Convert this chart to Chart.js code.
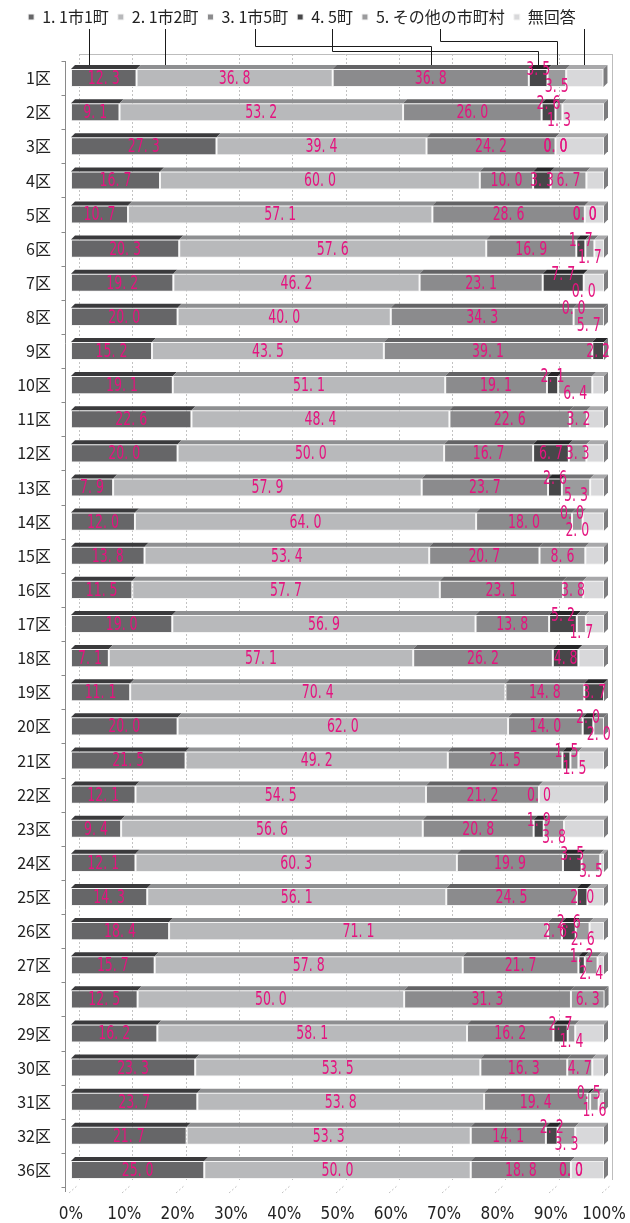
<!DOCTYPE html>
<html lang="ja">
<head>
<meta charset="utf-8">
<title>区別 回答割合</title>
<script src="https://cdn.jsdelivr.net/npm/chart.js@4.4.0/dist/chart.umd.min.js"></script>
<style>
    html, body { margin: 0; padding: 0; background: #fff; }
    #wrap { width: 630px; height: 1223px; }
</style>
</head>
<body>
<div id="wrap"><canvas id="chart" width="630" height="1223"></canvas></div>
<script>
// Categories (rows)
const districts = ['1区', '2区', '3区', '4区', '5区', '6区', '7区', '8区', '9区', '10区',
    '11区', '12区', '13区', '14区', '15区', '16区', '17区', '18区', '19区', '20区',
    '21区', '22区', '23区', '24区', '25区', '26区', '27区', '28区', '29区', '30区',
    '31区', '32区', '36区'];

// Series names (legend)
const seriesNames = ['1. 1市1町', '2. 1市2町', '3. 1市5町', '4. 5町', '5. その他の市町村', '無回答'];

// Series values (%), null = no value shown
const city1Town1 = [12.3, 9.1, 27.3, 16.7, 10.7, 20.3, 19.2, 20.0, 15.2, 19.1, 22.6, 20.0, 7.9, 12.0, 13.8, 11.5,
    19.0, 7.1, 11.1, 20.0, 21.5, 12.1, 9.4, 12.1, 14.3, 18.4, 15.7, 12.5, 16.2, 23.3, 23.7, 21.7, 25.0];
const city1Town2 = [36.8, 53.2, 39.4, 60.0, 57.1, 57.6, 46.2, 40.0, 43.5, 51.1, 48.4, 50.0, 57.9, 64.0, 53.4, 57.7,
    56.9, 57.1, 70.4, 62.0, 49.2, 54.5, 56.6, 60.3, 56.1, 71.1, 57.8, 50.0, 58.1, 53.5, 53.8, 53.3, 50.0];
const city1Town5 = [36.8, 26.0, 24.2, 10.0, 28.6, 16.9, 23.1, 34.3, 39.1, 19.1, 22.6, 16.7, 23.7, 18.0, 20.7, 23.1,
    13.8, 26.2, 14.8, 14.0, 21.5, 21.2, 20.8, 19.9, 24.5, 2.6, 21.7, 31.3, 16.2, 16.3, 19.4, 14.1, 18.8];
const town5 = [3.5, 2.6, 0.0, 3.3, 0.0, 1.7, 7.7, 0.0, 2.2, 2.1, null, 6.7, 2.6, 0.0, null, null,
    5.2, 4.8, 3.7, 2.0, 1.5, null, 1.9, 3.5, 2.0, 2.6, 1.2, null, 2.7, null, 0.5, 2.2, 0.0];
const otherMunicipalities = [3.5, 1.3, 0.0, 6.7, 0.0, 1.7, 0.0, 5.7, null, 6.4, 3.2, 3.3, 5.3, 2.0, 8.6, 3.8,
    1.7, null, null, 2.0, 1.5, 0.0, 3.8, 3.5, null, 2.6, 2.4, 6.3, 1.4, 4.7, 1.6, 3.3, 0.0];
const noAnswer = [7.0, 7.8, 9.1, 3.3, 3.6, 1.8, 3.8, 0.0, 0.0, 2.2, 3.2, 3.3, 2.6, 4.0, 3.5, 3.9,
    3.4, 4.8, 0.0, 0.0, 4.8, 12.2, 7.5, 0.7, 3.1, 2.7, 1.2, 0.0, 5.4, 2.2, 1.0, 5.4, 6.2];

const seriesValues = [city1Town1, city1Town2, city1Town5, town5, otherMunicipalities, noAnswer];

// Styles
const faceColors = ['#666668', '#b8b9bb', '#8b8b8d', '#474749', '#9b9b9d', '#d8d8da'];
const topColors = ['#3a3a3c', '#8e8f91', '#636365', '#262628', '#737375', '#a8a8aa'];
const labelColor = '#e4147f';
const depth = 4;            // 3D top face depth
const wallDx = 8, wallDy = 7;
const legendBand = 61;      // space reserved for legend + leader lines
const labelSqueeze = 0.66;

function fmt(v) {
    return v.toFixed(1).replace('.', '. ');
}

/**
 * Decorations: back wall, axis, 3D faces, value labels, legend leader lines
 */
const decor = {
    id: 'decor',
    afterInit(chart) {
        const lg = chart.legend;
        if (lg) {
            const fit = lg.fit;
            lg.fit = function () { fit.call(this); this.height = legendBand; };
        }
    },
    beforeDatasetsDraw(chart) {
        const { ctx, chartArea: a, scales: { x } } = chart;
        ctx.save();
        ctx.lineWidth = 1;

        // back wall grid (dashed)
        ctx.strokeStyle = '#c2c2c2';
        ctx.setLineDash([2, 2]);
        x.ticks.forEach(t => {
            const px = Math.round(x.getPixelForValue(t.value)) + wallDx + 0.5;
            ctx.beginPath();
            ctx.moveTo(px, a.top - wallDy);
            ctx.lineTo(px, a.bottom - wallDy);
            ctx.stroke();
        });
        // floor diagonals
        x.ticks.forEach(t => {
            const px = Math.round(x.getPixelForValue(t.value));
            ctx.beginPath();
            ctx.moveTo(px - 2, a.bottom + 6);
            ctx.lineTo(px + wallDx - 1, a.bottom - 2);
            ctx.stroke();
        });
        ctx.setLineDash([]);

        // wall top and right edges
        ctx.strokeStyle = '#bdbdbd';
        ctx.beginPath();
        ctx.moveTo(a.left + wallDx, Math.round(a.top - wallDy) + 0.5);
        ctx.lineTo(a.right + wallDx, Math.round(a.top - wallDy) + 0.5);
        ctx.moveTo(Math.round(a.right + wallDx) + 0.5, a.top - wallDy);
        ctx.lineTo(Math.round(a.right + wallDx) + 0.5, a.bottom - wallDy);
        ctx.stroke();

        // left axis with tick marks at row boundaries
        const axX = Math.round(a.left - 6) + 0.5;
        ctx.strokeStyle = '#8a8a8a';
        ctx.beginPath();
        ctx.moveTo(axX, a.top);
        ctx.lineTo(axX, a.bottom + 5);
        const n = districts.length;
        for (let j = 0; j <= n; j++) {
            const yb = Math.round(a.top + j * a.height / n) + 0.5;
            ctx.moveTo(axX - 4, yb);
            ctx.lineTo(axX, yb);
        }
        ctx.stroke();
        ctx.restore();
    },
    afterDatasetsDraw(chart) {
        const { ctx, chartArea: a } = chart;
        ctx.save();

        // 3D top faces and right end face
        districts.forEach((d, j) => {
            let last = null;
            seriesValues.forEach((vals, i) => {
                const v = vals[j];
                if (v == null || v === 0) return;
                const el = chart.getDatasetMeta(i).data[j];
                const p = el.getProps(['x', 'y', 'base', 'height'], true);
                const lo = Math.min(p.x, p.base), hi = Math.max(p.x, p.base);
                const top = p.y - p.height / 2;
                ctx.fillStyle = topColors[i];
                ctx.beginPath();
                ctx.moveTo(lo, top);
                ctx.lineTo(lo + depth, top - depth);
                ctx.lineTo(hi + depth, top - depth);
                ctx.lineTo(hi, top);
                ctx.closePath();
                ctx.fill();
                last = { i, hi, top, bottom: p.y + p.height / 2 };
            });
            if (last) {
                ctx.fillStyle = '#7c7c7e';
                ctx.beginPath();
                ctx.moveTo(last.hi, last.top);
                ctx.lineTo(last.hi + depth, last.top - depth);
                ctx.lineTo(last.hi + depth, last.bottom - depth);
                ctx.lineTo(last.hi, last.bottom);
                ctx.closePath();
                ctx.fill();
            }
        });

        // value labels (無回答 not labelled)
        ctx.font = '19px "DejaVu Sans"';
        ctx.fillStyle = labelColor;
        ctx.textAlign = 'center';
        ctx.textBaseline = 'middle';
        districts.forEach((d, j) => {
            const items = [];
            for (let i = 0; i < 5; i++) {
                const v = seriesValues[i][j];
                if (v == null) continue;
                const p = chart.getDatasetMeta(i).data[j].getProps(['x', 'y', 'base'], true);
                const text = fmt(v);
                items.push({ i, text, cx: (p.x + p.base) / 2, cy: p.y, w: ctx.measureText(text).width * labelSqueeze, dy: 0 });
            }
            const overlap = (m, n) => Math.abs(m.cx - n.cx) < (m.w + n.w) / 2;
            const a3 = items.find(o => o.i === 2);
            const a4 = items.find(o => o.i === 3);
            const a5 = items.find(o => o.i === 4);
            if (a4 && a5 && Math.abs(a4.cx - a5.cx) > 0.5 && overlap(a4, a5)) {
                a4.dy = -9;
                a5.dy = 8;
            }
            if (a3 && a4 && overlap(a3, a4)) a4.dy = -9;
            items.forEach(o => {
                ctx.save();
                ctx.translate(o.cx, o.cy + o.dy);
                ctx.scale(labelSqueeze, 1);
                ctx.fillText(o.text, 0, 1);
                ctx.restore();
            });
        });

        // leader lines from legend items to the first row
        const lg = chart.legend;
        if (lg && lg.legendHitBoxes) {
            const boxW = lg.options.labels.boxWidth;
            const fs = lg.options.labels.font.size;
            const elbowOffsets = [0, 0, 15, 10, 20];
            ctx.strokeStyle = '#1a1a1a';
            ctx.lineWidth = 1;
            lg.legendHitBoxes.forEach((hb, i) => {
                const textLeft = hb.left + boxW + fs / 2;
                let sx = Math.round((textLeft + hb.left + hb.width) / 2) + 0.5;
                const sy = hb.top + hb.height + 4;
                const p = chart.getDatasetMeta(i).data[0].getProps(['x', 'y', 'base', 'height'], true);
                const lo = Math.min(p.x, p.base), hi = Math.max(p.x, p.base);
                const ey = p.y - p.height / 2 - depth;
                ctx.beginPath();
                if (sx > lo - 14 && sx < hi - 2) {
                    sx = Math.max(sx, Math.round(lo + 18) + 0.5);
                    ctx.moveTo(sx, sy);
                    ctx.lineTo(sx, ey);
                } else {
                    const tx = Math.round((lo + hi) / 2) + 0.5;
                    const my = Math.round(a.top - elbowOffsets[i]) + 0.5;
                    ctx.moveTo(sx, sy);
                    ctx.lineTo(sx, my);
                    ctx.lineTo(tx, my);
                    ctx.lineTo(tx, ey);
                }
                ctx.stroke();
            });
        }
        ctx.restore();
    }
};

const ctx = document.getElementById('chart').getContext('2d');
new Chart(ctx, {
    type: 'bar',
    data: {
        labels: districts,
        datasets: seriesValues.map((vals, i) => ({
            label: seriesNames[i],
            data: vals,
            backgroundColor: faceColors[i],
            borderColor: '#f4f4f4',
            borderWidth: 1,
            borderSkipped: false,
            barPercentage: 0.53,
            categoryPercentage: 1
        }))
    },
    options: {
        indexAxis: 'y',
        responsive: false,
        animation: false,
        devicePixelRatio: 1,
        layout: { padding: { top: 0, right: 26, bottom: 0, left: 0 } },
        plugins: {
            tooltip: { enabled: false },
            legend: {
                position: 'top',
                labels: {
                    boxWidth: 6,
                    boxHeight: 6,
                    padding: 9,
                    color: '#222',
                    font: { family: '"Noto Sans CJK JP", sans-serif', size: 16 }
                }
            }
        },
        scales: {
            x: {
                stacked: true,
                min: 0,
                max: 100,
                grid: { display: false, drawTicks: false },
                border: { display: false },
                afterFit: scale => {
                    scale.height = 36;
                    scale.paddingLeft = 0;
                    scale.paddingRight = 0;
                },
                ticks: {
                    stepSize: 10,
                    padding: 17,
                    color: '#222',
                    font: { family: '"Liberation Sans Narrow", "DejaVu Sans Condensed", sans-serif', size: 17 },
                    callback: v => v + '%'
                }
            },
            y: {
                stacked: true,
                grid: { display: false, drawTicks: false },
                border: { display: false },
                afterFit: scale => { scale.width = 71; },
                ticks: {
                    padding: 20,
                    color: '#222',
                    font: { family: '"Noto Sans CJK JP", sans-serif', size: 16 }
                }
            }
        }
    },
    plugins: [decor]
});
</script>
</body>
</html>
